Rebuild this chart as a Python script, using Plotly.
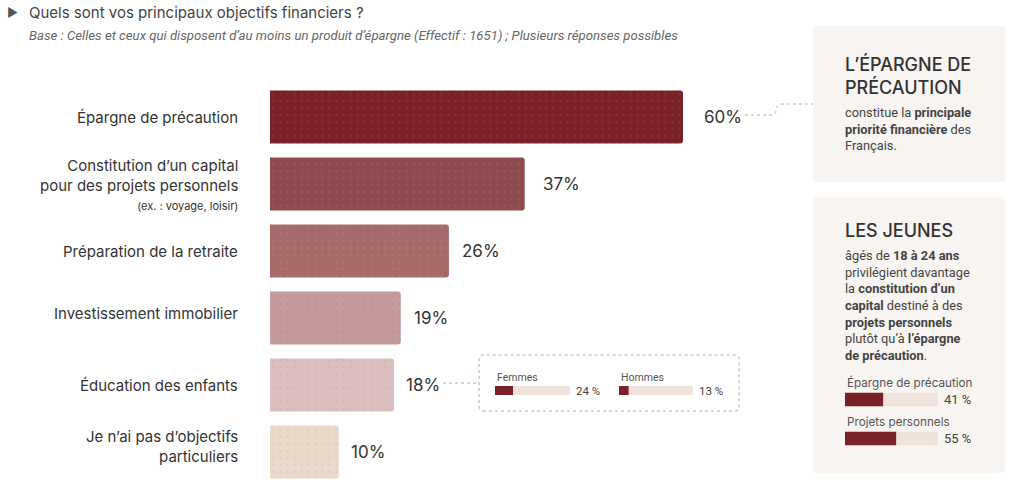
import plotly.graph_objects as go

W, H = 1024, 492

# ---------------- data ----------------
categories = [
    "Épargne de précaution",
    "Constitution d’un capital pour des projets personnels",
    "Préparation de la retraite",
    "Investissement immobilier",
    "Éducation des enfants",
    "Je n’ai pas d’objectifs particuliers",
]
category_labels = [
    "Épargne de précaution",
    "Constitution d’un capital<br>pour des projets personnels<br><span style='font-size:11px'>(ex. : voyage, loisir)</span>",
    "Préparation de la retraite",
    "Investissement immobilier",
    "Éducation des enfants",
    "Je n’ai pas d’objectifs<br>particuliers",
]
values = [60, 37, 26, 19, 18, 10]
value_labels = ["60%", "37%", "26%", "19%", "18%", "10%"]
bar_colors = ["#7a2029", "#8f4a4f", "#a66a6a", "#c49a9a", "#dcc0bf", "#e9dacb"]

gender_labels = ["Femmes", "Hommes"]
gender_values = [24, 13]

young_labels = ["Épargne de précaution", "Projets personnels"]
young_values = [41, 55]

FULL = 100
DARK = "#7a2029"
TRACK = "#efe3dc"
TXT = "#333333"


def px(x):
    return x / W


def py(y):
    return 1 - y / H


def rrect(x0, y0, x1, y1, r):
    rx, ry = r / W, r / H
    X0, X1 = px(x0), px(x1)
    Y0, Y1 = py(y1), py(y0)  # bottom, top in paper
    return (
        f"M {X0+rx},{Y0} L {X1-rx},{Y0} Q {X1},{Y0} {X1},{Y0+ry} "
        f"L {X1},{Y1-ry} Q {X1},{Y1} {X1-rx},{Y1} L {X0+rx},{Y1} "
        f"Q {X0},{Y1} {X0},{Y1-ry} L {X0},{Y0+ry} Q {X0},{Y0} {X0+rx},{Y0} Z"
    )


fig = go.Figure()

# main bars
fig.add_trace(go.Bar(
    x=values, y=categories, orientation="h",
    marker=dict(color=bar_colors, cornerradius=3, line=dict(width=0),
                pattern=dict(shape=".", fgcolor="#ffffff", fgopacity=0.10, size=7, solidity=0.08)),
    width=0.79, xaxis="x", yaxis="y", hoverinfo="skip", showlegend=False,
))

# inset gender bars
fig.add_trace(go.Bar(x=[FULL], y=[gender_labels[0]], orientation="h", marker=dict(color=TRACK, line=dict(width=0)),
                     width=1, xaxis="x2", yaxis="y2", showlegend=False, hoverinfo="skip"))
fig.add_trace(go.Bar(x=[gender_values[0]], y=[gender_labels[0]], orientation="h", marker=dict(color=DARK, line=dict(width=0)),
                     width=1, xaxis="x2", yaxis="y2", showlegend=False, hoverinfo="skip"))
fig.add_trace(go.Bar(x=[FULL], y=[gender_labels[1]], orientation="h", marker=dict(color=TRACK, line=dict(width=0)),
                     width=1, xaxis="x3", yaxis="y3", showlegend=False, hoverinfo="skip"))
fig.add_trace(go.Bar(x=[gender_values[1]], y=[gender_labels[1]], orientation="h", marker=dict(color=DARK, line=dict(width=0)),
                     width=1, xaxis="x3", yaxis="y3", showlegend=False, hoverinfo="skip"))

# young people mini bars
fig.add_trace(go.Bar(x=[FULL] * len(young_labels), y=young_labels, orientation="h", marker=dict(color=TRACK, line=dict(width=0)),
                     width=0.34, xaxis="x4", yaxis="y4", showlegend=False, hoverinfo="skip"))
fig.add_trace(go.Bar(x=young_values, y=young_labels, orientation="h", marker=dict(color=DARK, line=dict(width=0)),
                     width=0.34, xaxis="x4", yaxis="y4", showlegend=False, hoverinfo="skip"))

hidden = dict(visible=False, showgrid=False, zeroline=False, fixedrange=True)

px_per_pct = (683 - 270) / 60.0

fig.update_layout(
    width=W, height=H, margin=dict(l=0, r=0, t=0, b=0),
    paper_bgcolor="white", plot_bgcolor="rgba(0,0,0,0)",
    barmode="overlay", showlegend=False,
    font=dict(family="Inter, Open Sans, sans-serif", color=TXT),
    xaxis=dict(domain=[px(270), 1], range=[0, (W - 270) / px_per_pct], anchor="y", **hidden),
    yaxis=dict(domain=[py(485.5), py(83.5)], type="category", categoryarray=categories,
               range=[5.5, -0.5], anchor="x", **hidden),
    xaxis2=dict(domain=[px(495), px(570)], range=[0, FULL], anchor="y2", **hidden),
    yaxis2=dict(domain=[py(395), py(386)], range=[-0.5, 0.5], anchor="x2", type="category", **hidden),
    xaxis3=dict(domain=[px(619), px(693)], range=[0, FULL], anchor="y3", **hidden),
    yaxis3=dict(domain=[py(395), py(386)], range=[-0.5, 0.5], anchor="x3", type="category", **hidden),
    xaxis4=dict(domain=[px(845), px(938)], range=[0, FULL], anchor="y4", **hidden),
    yaxis4=dict(domain=[py(458), py(380)], range=[1.5, -0.5], anchor="x4", type="category",
                categoryarray=young_labels, **hidden),
)

shapes = []
# side panels
shapes.append(dict(type="path", xref="paper", yref="paper", path=rrect(813, 26, 1005, 182, 4),
                   fillcolor="#f7f4f1", line=dict(width=0), layer="below"))
shapes.append(dict(type="path", xref="paper", yref="paper", path=rrect(813, 197, 1005, 473, 4),
                   fillcolor="#f7f4f1", line=dict(width=0), layer="below"))
# inset dashed box
shapes.append(dict(type="path", xref="paper", yref="paper", path=rrect(479, 355, 739, 411, 4),
                   fillcolor="rgba(0,0,0,0)", line=dict(width=1, color="#c99ea2", dash="dot")))
# connector 18% -> inset
shapes.append(dict(type="line", xref="paper", yref="paper", x0=px(443), x1=px(479), y0=py(383), y1=py(383),
                   line=dict(width=1, color="#c99ea2", dash="dot")))
# connector 60% -> panel
shapes.append(dict(type="path", xref="paper", yref="paper",
                   path=f"M {px(745)},{py(115)} L {px(771)},{py(115)} Q {px(776)},{py(115)} {px(776)},{py(110)} "
                        f"Q {px(777)},{py(104)} {px(782)},{py(104)} L {px(813)},{py(104)}",
                   line=dict(width=1, color="#c99ea2", dash="dot")))
fig.update_layout(shapes=shapes)

ann = []
# title
ann.append(dict(text="▶", x=px(5), y=py(13), xref="paper", yref="paper", xanchor="left", yanchor="middle",
                showarrow=False, font=dict(size=12, color="#555555")))
ann.append(dict(text="Quels sont vos principaux objectifs financiers ?", x=px(27), y=py(13), xref="paper", yref="paper",
                xanchor="left", yanchor="middle", showarrow=False,
                font=dict(size=15, color="#444444", family="Inter, sans-serif")))
ann.append(dict(text="<i>Base : Celles et ceux qui disposent d’au moins un produit d’épargne (Effectif : 1651) ; Plusieurs réponses possibles</i>",
                x=px(27), y=py(35), xref="paper", yref="paper", xanchor="left", yanchor="middle", showarrow=False,
                font=dict(size=13.2, color="#666666", family="Roboto, sans-serif")))

# category labels
shifts = [-1, 0, 0, 5, 0, 6]
for cat, lab, s in zip(categories, category_labels, shifts):
    ann.append(dict(text=lab, x=px(240), y=cat, xref="paper", yref="y", xanchor="right", yanchor="middle",
                    align="right", showarrow=False, yshift=s, font=dict(size=15, color=TXT)))
# value labels
gaps = [19, 16, 11, 11, 10, 10]
for cat, v, lab, g in zip(categories, values, value_labels, gaps):
    ann.append(dict(text=lab, x=v, y=cat, xref="x", yref="y", xanchor="left", yanchor="middle",
                    showarrow=False, xshift=g, font=dict(size=17, color=TXT)))

# inset labels
for lab, v, xr, yr in [(gender_labels[0], gender_values[0], "x2", "y2"), (gender_labels[1], gender_values[1], "x3", "y3")]:
    ann.append(dict(text=lab, x=0, y=lab, xref=xr, yref=yr, xanchor="left", yanchor="middle", showarrow=False,
                    yshift=13, font=dict(size=10.5, color="#555555", family="Roboto, sans-serif")))
    ann.append(dict(text=f"{v} %", x=FULL, y=lab, xref=xr, yref=yr, xanchor="left", yanchor="middle", showarrow=False,
                    xshift=4, font=dict(size=11.5, color="#444444", family="Roboto, sans-serif")))

# panel 1
ann.append(dict(text="L’ÉPARGNE DE<br>PRÉCAUTION", x=px(843), y=py(51), xref="paper", yref="paper",
                xanchor="left", yanchor="top", align="left", showarrow=False,
                font=dict(size=18, color="#333333", family="Inter, sans-serif", weight=500)))
ann.append(dict(text="constitue la <b>principale</b><br><b>priorité financière</b> des<br>Français.",
                x=px(843), y=py(103), xref="paper", yref="paper", xanchor="left", yanchor="top", align="left",
                showarrow=False, font=dict(size=12.8, color="#444444", family="Roboto, sans-serif")))

# panel 2
ann.append(dict(text="LES JEUNES", x=px(843), y=py(230), xref="paper", yref="paper",
                xanchor="left", yanchor="middle", align="left", showarrow=False,
                font=dict(size=18, color="#333333", family="Inter, sans-serif", weight=500)))
ann.append(dict(text="âgés de <b>18 à 24 ans</b><br>privilégient davantage<br>la <b>constitution d’un</b><br>"
                     "<b>capital</b> destiné à des<br><b>projets personnels</b><br>plutôt qu’à <b>l’épargne</b><br>"
                     "<b>de précaution</b>.",
                x=px(843), y=py(246), xref="paper", yref="paper", xanchor="left", yanchor="top", align="left",
                showarrow=False, font=dict(size=12.8, color="#444444", family="Roboto, sans-serif")))
for lab, v in zip(young_labels, young_values):
    ann.append(dict(text=lab, x=0, y=lab, xref="x4", yref="y4", xanchor="left", yanchor="middle", showarrow=False,
                    yshift=17, font=dict(size=11.7, color="#555555", family="Inter, sans-serif")))
    ann.append(dict(text=f"{v} %", x=FULL, y=lab, xref="x4", yref="y4", xanchor="left", yanchor="middle",
                    showarrow=False, xshift=4, font=dict(size=13, color="#444444", family="Roboto, sans-serif")))

fig.update_layout(annotations=ann)
fig.write_html("out.html", config={"displayModeBar": False},
               post_script="document.body.style.margin='0px';")
